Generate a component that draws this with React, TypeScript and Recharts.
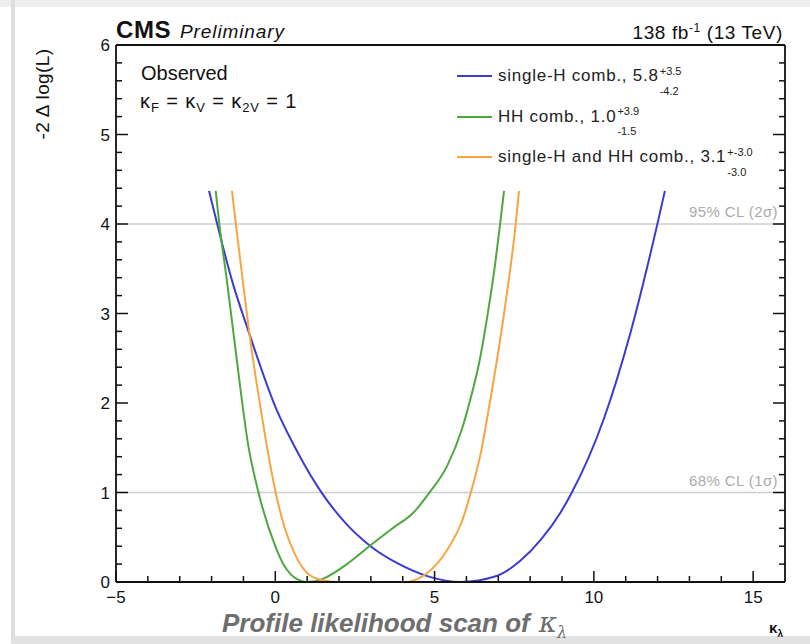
import { LineChart, Line, XAxis, YAxis, ReferenceLine, Legend } from "recharts"

// -2 Δ log(L) scans vs kappa_lambda
const singleHX = [-2.08, -1.83, -1.36, -0.84, 0, 0.7, 1.47, 2.15, 2.99, 3.83, 4.82, 5.8, 6.97, 7.7, 8.33, 8.96, 9.28, 10.32, 11.16, 12.0, 12.23]
const singleHY = [4.37, 4.01, 3.37, 2.8, 1.96, 1.45, 0.99, 0.68, 0.4, 0.21, 0.06, 0, 0.07, 0.24, 0.47, 0.78, 0.98, 1.83, 2.8, 4.01, 4.37]

const hhX = [-1.87, -1.76, -1.52, -1.26, -0.84, -0.52, 0, 0.25, 0.5, 0.75, 0.94, 1.2, 1.52, 2.25, 2.99, 3.72, 4.35, 4.82, 5.4, 5.87, 6.13, 6.4, 6.66, 6.9, 7.05, 7.18]
const hhY = [4.37, 4.01, 3.37, 2.63, 1.51, 0.99, 0.4, 0.2, 0.08, 0.02, 0, 0.005, 0.04, 0.2, 0.41, 0.61, 0.78, 0.99, 1.3, 1.72, 2.05, 2.45, 2.98, 3.55, 3.98, 4.37]

const combX = [-1.36, -1.24, -1.05, -0.84, -0.42, 0, 0.3, 0.63, 1.0, 1.47, 2, 3.1, 4.14, 4.5, 4.77, 5.4, 5.87, 6.13, 6.45, 6.66, 7.18, 7.55, 7.65]
const combY = [4.37, 4.01, 3.45, 2.85, 1.85, 1.02, 0.6, 0.3, 0.1, 0.02, 0, 0, 0, 0.04, 0.1, 0.36, 0.69, 0.99, 1.44, 1.85, 3.0, 4.01, 4.37]

const xMajor = [-5, 0, 5, 10, 15]
const yMajor = [0, 1, 2, 3, 4, 5, 6]
const xTicks = Array.from({ length: 21 }, (_, i) => i - 5)
const yTicks = Array.from({ length: 31 }, (_, i) => i / 5)

const toPoints = (xs: number[], ys: number[]) => xs.map((x, i) => ({ x, y: ys[i] }))

const series = [
  { name: "single-H comb., 5.8", up: "+3.5", down: "-4.2", color: "#3b3bd0", points: toPoints(singleHX, singleHY) },
  { name: "HH comb., 1.0", up: "+3.9", down: "-1.5", color: "#4ea83e", points: toPoints(hhX, hhY) },
  { name: "single-H and HH comb., 3.1", up: "+-3.0", down: "-3.0", color: "#f7a543", points: toPoints(combX, combY) },
]

const font = "'Liberation Sans', Arial, Helvetica, sans-serif"

const XTick = (props: any) => {
  const { x, y, payload, top } = props
  const major = xMajor.includes(payload.value)
  const len = major ? 11 : 6
  const label = payload.value < 0 ? "\u2212" + Math.abs(payload.value) : String(payload.value)
  return (
    <g>
      <line x1={x} x2={x} y1={y} y2={top ? y + len : y - len} stroke="#111" strokeWidth={1.5} />
      {!top && major && (
        <text x={x} y={y + 21} textAnchor="middle" fontSize={17} fontFamily={font} fill="#111">
          {label}
        </text>
      )}
    </g>
  )
}

const YTick = (props: any) => {
  const { x, y, payload, right } = props
  const major = yMajor.includes(payload.value)
  const len = major ? 12 : 6
  return (
    <g>
      <line x1={x} x2={right ? x - len : x + len} y1={y} y2={y} stroke="#111" strokeWidth={1.5} />
      {!right && major && (
        <text x={x - 6} y={y + 6} textAnchor="end" fontSize={17} fontFamily={font} fill="#111">
          {payload.value}
        </text>
      )}
    </g>
  )
}

const LegendBox = () => (
  <div style={{ fontFamily: font, color: "#222" }}>
    {series.map((s) => (
      <div key={s.name} style={{ display: "flex", alignItems: "center", height: 40.5 }}>
        <svg width={37} height={4} style={{ display: "block" }}>
          <line x1={2} x2={37} y1={2} y2={2} stroke={s.color} strokeWidth={2} />
        </svg>
        <span style={{ marginLeft: 6, fontSize: 17, letterSpacing: 0.75, whiteSpace: "nowrap" }}>{s.name}</span>
        <span
          style={{
            display: "inline-flex",
            flexDirection: "column",
            fontSize: 11,
            lineHeight: "11px",
            marginLeft: 1,
            position: "relative",
            top: 8,
          }}
        >
          <span style={{ marginTop: -6 }}>{s.up}</span>
          <span style={{ marginTop: 9 }}>{s.down}</span>
        </span>
      </div>
    ))}
  </div>
)

const axisStroke = { stroke: "#111", strokeWidth: 1.8 }

export default function App() {
  return (
    <div style={{ position: "absolute", left: 0, top: 0, width: 810, height: 644, background: "#fff", overflow: "hidden" }}>
      <div style={{ position: "absolute", left: 0, top: 0, width: 810, height: 7, background: "#eeeeee" }} />
      <div style={{ position: "absolute", left: 11, top: 0, width: 4, height: 644, background: "#dedede" }} />
      <div style={{ position: "absolute", left: 11, top: 636, width: 799, height: 8, background: "#e2e2e2" }} />

      <div style={{ position: "absolute", left: 0, top: 0 }}>
        <LineChart width={810} height={644} margin={{ top: 44, right: 24, bottom: 61, left: 115 }}>
          <XAxis
            xAxisId="b"
            dataKey="x"
            type="number"
            domain={[-5, 16]}
            ticks={xTicks}
            interval={0}
            allowDataOverflow
            height={1}
            tickSize={0}
            tickMargin={0}
            tickLine={false}
            axisLine={axisStroke}
            tick={<XTick />}
          />
          <XAxis
            xAxisId="t"
            orientation="top"
            type="number"
            domain={[-5, 16]}
            ticks={xTicks}
            interval={0}
            allowDataOverflow
            height={1}
            tickSize={0}
            tickMargin={0}
            tickLine={false}
            axisLine={axisStroke}
            tick={<XTick top />}
          />
          <YAxis
            yAxisId="l"
            type="number"
            domain={[0, 6]}
            ticks={yTicks}
            interval={0}
            allowDataOverflow
            width={1}
            tickSize={0}
            tickMargin={0}
            tickLine={false}
            axisLine={axisStroke}
            tick={<YTick />}
          />
          <YAxis
            yAxisId="r"
            orientation="right"
            type="number"
            domain={[0, 6]}
            ticks={yTicks}
            interval={0}
            allowDataOverflow
            width={1}
            tickSize={0}
            tickMargin={0}
            tickLine={false}
            axisLine={axisStroke}
            tick={<YTick right />}
          />
          <ReferenceLine
            xAxisId="b"
            yAxisId="l"
            y={1}
            stroke="#cfcfcf"
            strokeWidth={1.5}
            label={{ value: "68% CL (1\u03c3)", position: "insideBottomRight", fill: "#ababab", fontSize: 15, fontFamily: font, offset: 7, letterSpacing: 0.4 }}
          />
          <ReferenceLine
            xAxisId="b"
            yAxisId="l"
            y={4}
            stroke="#cfcfcf"
            strokeWidth={1.5}
            label={{ value: "95% CL (2\u03c3)", position: "insideBottomRight", fill: "#ababab", fontSize: 15, fontFamily: font, offset: 7, letterSpacing: 0.4 }}
          />
          {series.map((s) => (
            <Line
              key={s.name}
              xAxisId="b"
              yAxisId="l"
              data={s.points}
              dataKey="y"
              name={s.name}
              type="monotone"
              stroke={s.color}
              strokeWidth={2}
              dot={false}
              isAnimationActive={false}
            />
          ))}
          <Legend
            layout="vertical"
            align="center"
            verticalAlign="middle"
            content={<LegendBox />}
            wrapperStyle={{ left: 455, top: 56, width: 345, height: 125 }}
          />
        </LineChart>
      </div>

      <svg width={810} height={644} style={{ position: "absolute", left: 0, top: 0, pointerEvents: "none" }}>
        <g fontFamily={font} fill="#111">
          <text x={116} y={38} fontSize={24} fontWeight="bold" letterSpacing={0.6}>CMS</text>
          <text x={180} y={38} fontSize={19} fontStyle="italic" letterSpacing={0.9}>Preliminary</text>
          <text x={783} y={39} fontSize={19} textAnchor="end" letterSpacing={0.6}>
            138 fb<tspan fontSize={12} dy={-7}>-1</tspan>
            <tspan dy={7}> (13 TeV)</tspan>
          </text>
          <text x={141} y={80} fontSize={20}>Observed</text>
          <text x={140} y={108} fontSize={20} letterSpacing={0.9}>
            κ<tspan fontSize={13} dy={4}>F</tspan>
            <tspan dy={-4}> = κ</tspan>
            <tspan fontSize={13} dy={4}>V</tspan>
            <tspan dy={-4}> = κ</tspan>
            <tspan fontSize={13} dy={4}>2V</tspan>
            <tspan dy={-4}> = 1</tspan>
          </text>
          <text transform="translate(49, 94) rotate(-90)" fontSize={19} textAnchor="middle" letterSpacing={0.4}>
            -2 Δ log(L)
          </text>
          <text x={783} y={633} fontSize={15} fontWeight="bold" textAnchor="end">
            κ<tspan fontSize={10} dy={4}>λ</tspan>
          </text>
          <text x={222} y={632} fontSize={26} fontWeight="bold" fontStyle="italic" fill="#6e6e6e">
            Profile likelihood scan of
            <tspan fontFamily="'DejaVu Serif', serif" fontWeight="normal" fontSize={28}> κ</tspan>
            <tspan fontFamily="'DejaVu Serif', serif" fontWeight="normal" fontSize={16} dy={6}>λ</tspan>
          </text>
        </g>
      </svg>
    </div>
  )
}
